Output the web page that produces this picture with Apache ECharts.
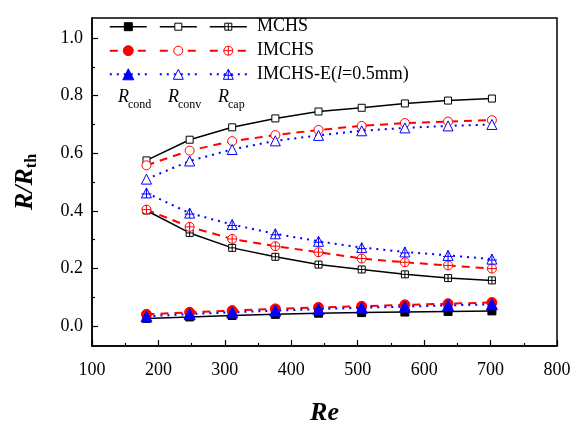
<!DOCTYPE html>
<html><head><meta charset="utf-8">
<script src="https://cdn.jsdelivr.net/npm/echarts@6/dist/echarts.min.js"></script>
<style>html,body{margin:0;padding:0;background:#fff}#c{width:576px;height:429px}</style>
</head><body><div id="c"></div>
<script>
// ---- data ----
const reValues   = [182, 247, 311, 376, 441, 506, 571, 636, 702];
const mchsCond   = [0.026, 0.031, 0.036, 0.040, 0.044, 0.046, 0.048, 0.050, 0.052];
const mchsConv   = [0.575, 0.647, 0.690, 0.721, 0.745, 0.758, 0.773, 0.783, 0.790];
const mchsCap    = [0.401, 0.323, 0.271, 0.240, 0.213, 0.196, 0.179, 0.166, 0.158];
const imchsCond  = [0.040, 0.047, 0.053, 0.059, 0.064, 0.068, 0.073, 0.077, 0.081];
const imchsConv  = [0.558, 0.609, 0.642, 0.663, 0.681, 0.695, 0.705, 0.710, 0.715];
const imchsCap   = [0.404, 0.344, 0.302, 0.277, 0.256, 0.234, 0.221, 0.210, 0.199];
const imchseCond = [0.033, 0.041, 0.047, 0.053, 0.058, 0.063, 0.067, 0.071, 0.075];
const imchseConv = [0.510, 0.573, 0.613, 0.643, 0.662, 0.678, 0.688, 0.695, 0.700];
const imchseCap  = [0.462, 0.392, 0.352, 0.320, 0.294, 0.272, 0.257, 0.245, 0.232];
const yMajorTicks = [0, 0.2, 0.4, 0.6, 0.8, 1.0];
const yMinorTicks = [0.1, 0.3, 0.5, 0.7, 0.9];
const xMinorTicks = [150, 250, 350, 450, 550, 650, 750];
const groupNames = ['MCHS', 'IMCHS', 'IMCHS-E(l=0.5mm)'];

// ---- styles ----
const FONT = 'Liberation Serif';
const COLORS = ['#000000', '#ff0000', '#0000ff'];
const LINE_TYPES = ['solid', [8, 6], [2, 5]];
const LINE_WIDTHS = [1.5, 2, 2];
const SIZES = {sq: 8, ci: 10, tr: 11};
const SQ_X = 'path://M0,0H10V10H0ZM5,0V10M0,5H10';
const CI_X = 'path://M0,5A5,5,0,1,1,10,5A5,5,0,1,1,0,5ZM5,0V10M0,5H10';
const TR_X = 'path://M5,0L10,10L0,10ZM5,0V10M0,6H10';

function pairs(ys) { return reValues.map((x, i) => [x, ys[i]]); }

const shapeKind = ['sq', 'ci', 'tr'];
const symbolsFor = {
  sq: ['rect', 'rect', SQ_X],
  ci: ['circle', 'circle', CI_X],
  tr: ['triangle', 'triangle', TR_X]
};
const dataSets = [
  [mchsCond, mchsConv, mchsCap],
  [imchsCond, imchsConv, imchsCap],
  [imchseCond, imchseConv, imchseCap]
];

const series = [];
for (let g = 0; g < 3; g++) {
  for (let k = 0; k < 3; k++) {
    const kind = shapeKind[g];
    series.push({
      type: 'line',
      name: groupNames[g] + ' ' + ['cond', 'conv', 'cap'][k],
      data: pairs(dataSets[g][k]),
      symbol: symbolsFor[kind][k],
      symbolSize: k === 0 ? SIZES[kind] : SIZES[kind] - 1,
      showAllSymbol: true,
      lineStyle: {color: COLORS[g], width: LINE_WIDTHS[g], type: LINE_TYPES[g]},
      itemStyle: {
        color: k === 0 ? COLORS[g] : '#ffffff',
        borderColor: COLORS[g],
        borderWidth: 1
      },
      z: 2 + g,
      emphasis: {disabled: true},
      silent: true,
      animation: false
    });
  }
}

// ---- legend drawn as graphic ----
const legendRowsY = [26.7, 50.7, 74.3];
const legendColsX = [128.3, 178.3, 228.3];
const legendHalf = 18.5;
function marker(kind, k, cx, cy, color) {
  const s = (k === 0 ? SIZES[kind] : SIZES[kind] - 1);
  const h = s / 2;
  const fill = k === 0 ? color : '#ffffff';
  const st = {fill: fill, stroke: color, lineWidth: 1};
  const els = [];
  if (kind === 'sq') els.push({type: 'rect', shape: {x: cx - h, y: cy - h, width: s, height: s}, style: st, z: 100});
  if (kind === 'ci') els.push({type: 'circle', shape: {cx: cx, cy: cy, r: h}, style: st, z: 100});
  if (kind === 'tr') els.push({type: 'polygon', shape: {points: [[cx, cy - h], [cx + h, cy + h], [cx - h, cy + h]]}, style: st, z: 100});
  if (k === 2) {
    const hy = kind === 'tr' ? cy + s * 0.1 : cy;
    els.push({type: 'line', shape: {x1: cx, y1: cy - h, x2: cx, y2: cy + h}, style: {stroke: color, lineWidth: 1}, z: 101});
    els.push({type: 'line', shape: {x1: cx - h, y1: hy, x2: cx + h, y2: hy}, style: {stroke: color, lineWidth: 1}, z: 101});
  }
  return els;
}
const graphics = [];
for (let g = 0; g < 3; g++) {
  const y = legendRowsY[g];
  for (let k = 0; k < 3; k++) {
    const cx = legendColsX[k];
    const dash = LINE_TYPES[g] === 'solid' ? null : LINE_TYPES[g];
    graphics.push({type: 'line', shape: {x1: cx - legendHalf, y1: y, x2: cx + legendHalf, y2: y},
      style: {stroke: COLORS[g], lineWidth: LINE_WIDTHS[g], lineDash: dash}, z: 99});
    marker(shapeKind[g], k, cx, y, COLORS[g]).forEach(e => graphics.push(e));
  }
}
const legendRich = {
  n: {fontFamily: FONT, fontSize: 18, fill: '#000', color: '#000'},
  it: {fontFamily: FONT, fontSize: 18, fontStyle: 'italic', fill: '#000', color: '#000'}
};
const legendTexts = ['{n|MCHS}', '{n|IMCHS}', '{n|IMCHS-E(}{it|l}{n|=0.5mm)}'];
for (let g = 0; g < 3; g++) {
  graphics.push({type: 'text', x: 257, y: legendRowsY[g], z: 100,
    style: {text: legendTexts[g], rich: legendRich, verticalAlign: 'middle', align: 'left',
      fontFamily: FONT, fontSize: 18, fill: '#000'}});
}
const subLabels = [['cond', 118, 128], ['conv', 168, 178], ['cap', 218, 228]];
subLabels.forEach(([sub, xr, xs]) => {
  graphics.push({type: 'text', x: xr, y: 97, z: 100,
    style: {text: 'R', fontFamily: FONT, fontSize: 18, fontStyle: 'italic', fill: '#000', verticalAlign: 'middle', align: 'left'}});
  graphics.push({type: 'text', x: xs, y: 105, z: 100,
    style: {text: sub, fontFamily: FONT, fontSize: 12, fill: '#000', verticalAlign: 'middle', align: 'left'}});
});

const axisLabelStyle = {fontFamily: FONT, fontSize: 18, color: '#000'};

const option = {
  animation: false,
  backgroundColor: '#ffffff',
  grid: {left: 92, right: 19, top: 18, bottom: 83, show: true, borderColor: '#000', borderWidth: 1.5,
    backgroundColor: 'transparent', containLabel: false, outerBoundsMode: 'none'},
  xAxis: [{
    type: 'value', position: 'bottom', offset: 0, min: 100, max: 800, interval: 100,
    axisLine: {onZero: false, lineStyle: {color: '#000', width: 1.5}},
    axisTick: {inside: true, length: 6, lineStyle: {color: '#000', width: 1.2}},
    axisLabel: Object.assign({margin: 15}, axisLabelStyle),
    splitLine: {show: false},
    name: 'Re', nameLocation: 'middle', nameGap: 54,
    nameTextStyle: {fontFamily: FONT, fontSize: 26, fontWeight: 'bold', fontStyle: 'italic', color: '#000'}
  }, {
    type: 'value', position: 'bottom', offset: 0, min: 100, max: 800,
    axisLine: {show: false, onZero: false},
    axisTick: {inside: true, length: 3, customValues: xMinorTicks, lineStyle: {color: '#000', width: 1.2}},
    axisLabel: {show: false},
    splitLine: {show: false}
  }],
  yAxis: [{
    type: 'value', position: 'left', offset: 0, min: -0.07, max: 1.07,
    axisLine: {show: true, onZero: false, lineStyle: {color: '#000', width: 1.5}},
    axisTick: {show: true, inside: true, length: 6, customValues: yMajorTicks, lineStyle: {color: '#000', width: 1.2}},
    axisLabel: Object.assign({margin: 9, customValues: yMajorTicks, formatter: v => v.toFixed(1)}, axisLabelStyle),
    splitLine: {show: false},
    name: '{i|R/R}{s|th}', nameLocation: 'middle', nameRotate: 90, nameGap: 52,
    nameTextStyle: {rich: {
      i: {fontFamily: FONT, fontSize: 26, fontWeight: 'bold', fontStyle: 'italic', color: '#000', lineHeight: 30, verticalAlign: 'middle'},
      s: {fontFamily: FONT, fontSize: 16, fontWeight: 'bold', color: '#000', lineHeight: 16, verticalAlign: 'bottom'}
    }}
  }, {
    type: 'value', position: 'left', offset: 0, min: -0.07, max: 1.07,
    axisLine: {show: false, onZero: false},
    axisTick: {show: true, inside: true, length: 3, customValues: yMinorTicks, lineStyle: {color: '#000', width: 1.2}},
    axisLabel: {show: false},
    splitLine: {show: false}
  }],
  graphic: graphics,
  series: series
};
const chart = echarts.init(document.getElementById('c'), null, {renderer: 'canvas'});
chart.setOption(option);
</script>
</body></html>
